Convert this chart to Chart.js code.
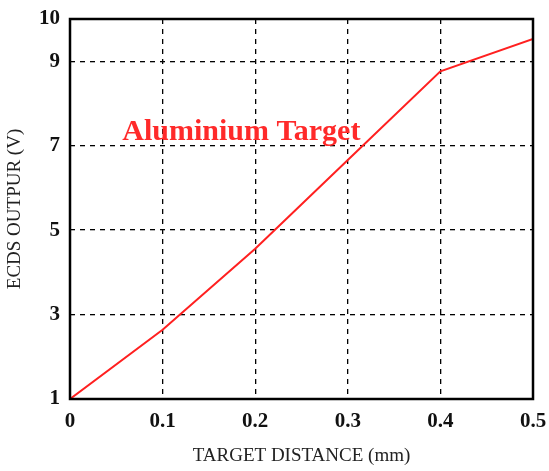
<!DOCTYPE html>
<html>
<head>
<meta charset="utf-8">
<script src="https://cdn.jsdelivr.net/npm/chart.js@4"></script>
<style>
  html, body { margin: 0; padding: 0; background: #fff; }
  #wrap { width: 549px; height: 471px; position: relative; }
</style>
</head>
<body>
<div id="wrap"><canvas id="chartCanvas"></canvas></div>
<script>
// dữ liệu
const distances = [0, 0.1, 0.2, 0.3, 0.4, 0.5];       // mm
const outputs   = [1.0, 2.64, 4.56, 6.66, 8.76, 9.53]; // V
const xTicks    = [0, 0.1, 0.2, 0.3, 0.4, 0.5];
const yTicks    = [1, 3, 5, 7, 9, 10];
const labelText = "Aluminium Target";

const serif = "'Liberation Serif', 'DejaVu Serif', serif";

// khung đen quanh vùng vẽ + chữ chú thích
const framePlugin = {
  id: "frame",
  afterDatasetsDraw(chart) {
    const { ctx, chartArea: a, scales } = chart;
    ctx.save();
    ctx.strokeStyle = "#000";
    ctx.lineWidth = 2.5;
    ctx.strokeRect(a.left, a.top, a.right - a.left, a.bottom - a.top);
    ctx.fillStyle = "#ff2a2a";
    ctx.font = "bold 30px " + serif;
    ctx.textBaseline = "alphabetic";
    ctx.fillText(labelText, scales.x.getPixelForValue(0.0565), scales.y.getPixelForValue(7.14));
    ctx.restore();
  }
};

const ctx = document.getElementById("chartCanvas").getContext("2d");
new Chart(ctx, {
  type: "line",
  data: {
    datasets: [{
      data: distances.map((d, i) => ({ x: d, y: outputs[i] })),
      borderColor: "#ff2020",
      borderWidth: 2,
      pointRadius: 0,
      tension: 0,
      fill: false
    }]
  },
  options: {
    responsive: true,
    maintainAspectRatio: false,
    animation: false,
    layout: { padding: { top: 19, right: 16, left: 0, bottom: 0 } },
    plugins: { legend: { display: false }, tooltip: { enabled: false } },
    scales: {
      x: {
        type: "linear",
        min: 0, max: 0.5,
        afterBuildTicks: s => { s.ticks = xTicks.map(v => ({ value: v })); },
        afterFit: s => { s.height = 72; s.paddingLeft = 0; s.paddingRight = 0; },
        grid: { color: "#000", lineWidth: 1.3, tickLength: 0, drawTicks: false },
        border: { display: false, dash: [5, 5] },
        ticks: {
          color: "#111", padding: 10, maxRotation: 0,
          font: { family: serif, size: 21, weight: "bold" },
          callback: v => String(v)
        },
        title: {
          display: true, text: "TARGET DISTANCE (mm)", color: "#222",
          font: { family: serif, size: 19 }, padding: { top: 14 }
        }
      },
      y: {
        type: "linear",
        min: 1, max: 10,
        afterBuildTicks: s => { s.ticks = yTicks.map(v => ({ value: v })); },
        afterFit: s => { s.width = 70; s.paddingTop = 0; s.paddingBottom = 0; },
        grid: { color: "#000", lineWidth: 1.3, drawTicks: false },
        border: { display: false, dash: [5, 5] },
        ticks: {
          color: "#111", padding: 10,
          font: { family: serif, size: 21, weight: "bold" }
        },
        title: {
          display: true, text: "ECDS OUTPUR (V)", color: "#222",
          font: { family: serif, size: 19 }, padding: { bottom: 10 }
        }
      }
    }
  },
  plugins: [framePlugin]
});
</script>
</body>
</html>
